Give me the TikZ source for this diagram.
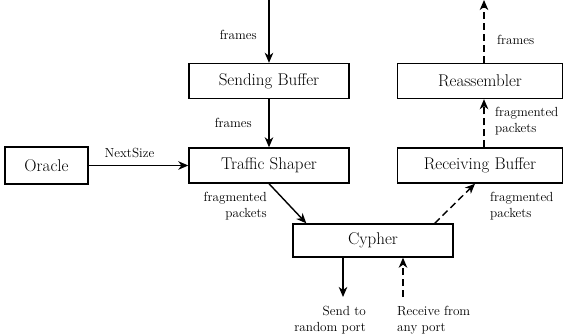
\documentclass[tikz,border=0pt]{standalone}
\usetikzlibrary{arrows.meta}
\begin{document}
\begin{tikzpicture}[x=1pt,y=-1pt,
  block/.style={draw, line width=1.4pt, minimum height=35pt, inner sep=0pt,
    font=\fontsize{17}{20}\selectfont},
  lbl/.style={inner sep=0pt, font=\fontsize{13.2}{16}\selectfont},
  flow/.style={line width=1.4pt, -{Stealth[length=10pt,width=8.5pt,inset=3pt]}},
  back/.style={flow, dash pattern=on 7pt off 4pt}]
\useasboundingbox (0,0) rectangle (564,335);

% blocks
\node[block, minimum width=160pt] (sb) at (269,81) {Sending Buffer};
\node[block, minimum width=160pt] (ts) at (269,165.5) {Traffic Shaper};
\node[block, minimum width=83pt, minimum height=37pt] (or) at (46.5,165.5) {Oracle};
\node[block, minimum width=165pt] (ra) at (480,81) {Reassembler};
\node[block, minimum width=165pt] (rb) at (480,165.5) {Receiving Buffer};
\node[block, minimum width=160pt, minimum height=33pt] (cy) at (373,240.5) {Cypher};

% free ends
\coordinate (in) at (269,0);
\coordinate (out) at (484,0);
\coordinate (send) at (343,297);
\coordinate (recv) at (403,297);

% sending path
\draw[flow] (in) -- (sb.north);
\draw[flow] (sb) -- (ts);
\draw[flow] (or) -- (ts);
\draw[flow] (ts.south) -- ([xshift=14pt]cy.north west);
\draw[flow] ([xshift=-30pt]cy.south) -- (send);

% receiving path
\draw[back] (recv) -- ([xshift=30pt]cy.south);
\draw[back] ([xshift=-19pt]cy.north east) -- ([xshift=-5pt]rb.south);
\draw[back] ([xshift=4pt]rb.north) -- ([xshift=4pt]ra.south);
\draw[back] ([xshift=4pt]ra.north) -- (out);

% labels
\node[lbl, anchor=east] (l1) at (257,35) {frames};
\node[lbl, anchor=east] (l2) at (252,123) {frames};
\node[lbl] (l3) at (129.5,153) {NextSize};
\node[lbl, align=right, anchor=east] (l4) at (267,206) {fragmented\\packets};
\node[lbl, align=left, anchor=west] (l5) at (490,206) {fragmented\\packets};
\node[lbl, align=left, anchor=west] (l6) at (495,121.5) {fragmented\\packets};
\node[lbl, anchor=west] (l7) at (497,40) {frames};
\node[lbl, align=right, anchor=east] (l8) at (366,320) {Send to\\random port};
\node[lbl, align=left, anchor=west] (l9) at (397,320) {Receive from\\any port};
\end{tikzpicture}
\end{document}
